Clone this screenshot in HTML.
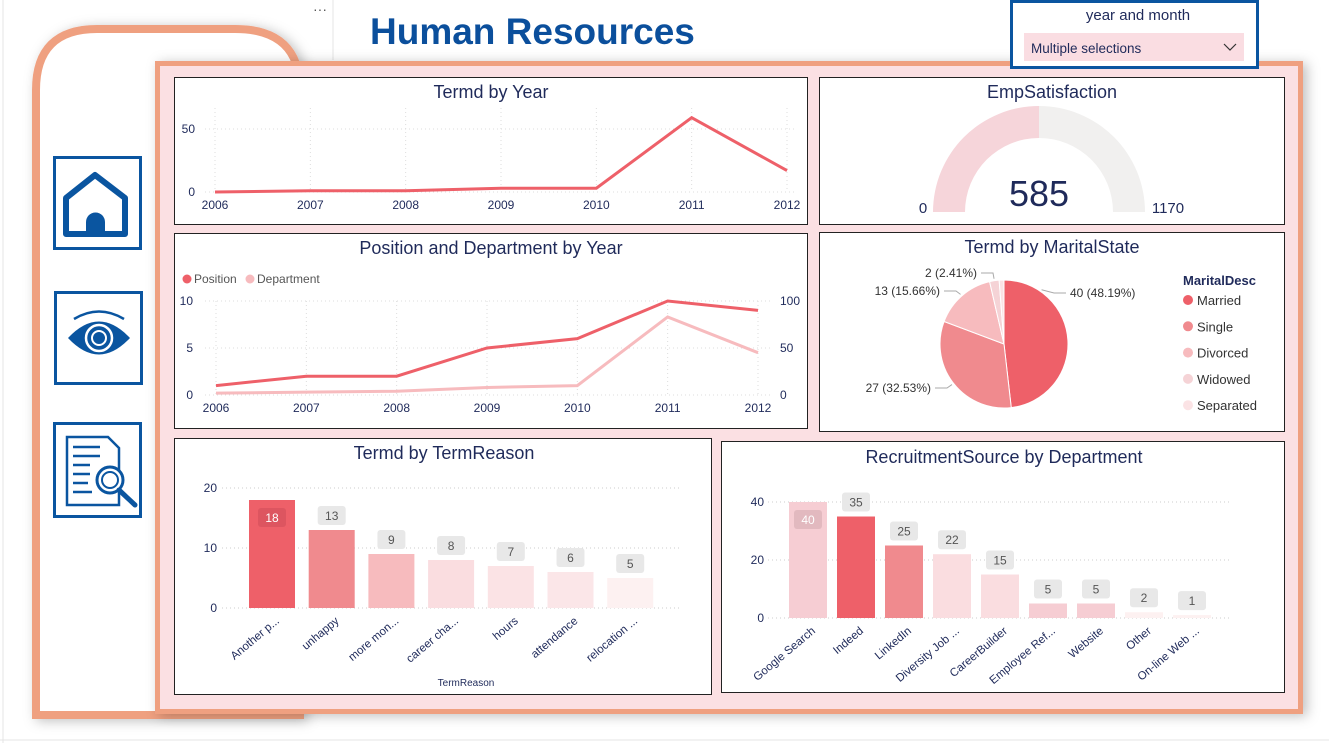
<!DOCTYPE html>
<html><head><meta charset="utf-8">
<style>
html,body{margin:0;padding:0;background:#fff;width:1329px;height:743px;overflow:hidden;font-family:"Liberation Sans",sans-serif;}
svg{display:block}
text{font-family:"Liberation Sans",sans-serif}
</style></head>
<body>
<svg id="s" width="1329" height="743" viewBox="0 0 1329 743" xmlns="http://www.w3.org/2000/svg">
<defs>
<filter id="sh" x="-10%" y="-10%" width="130%" height="130%"><feDropShadow dx="4" dy="2" stdDeviation="6" flood-color="#000" flood-opacity="0.25"/></filter>
</defs>
<line x1="3" y1="0" x2="3" y2="743" stroke="#e4e4e4"/>
<line x1="333" y1="0" x2="333" y2="60" stroke="#e4e4e4"/>
<line x1="0" y1="740" x2="1329" y2="740" stroke="#e4e4e4"/>
<text x="320" y="14" font-size="14" fill="#555" text-anchor="middle">···</text>
<!-- sidebar -->
<path d="M36,715 L36,90 Q36,29 97,29 L235,29 Q300,29 300,90 L300,715 Z" fill="#fff" stroke="#EFA080" stroke-width="8" filter="url(#sh)"/>
<!-- title -->
<text x="370" y="44" font-size="37" font-weight="bold" fill="#0B4F9C">Human Resources</text>
<!-- main panel -->
<rect x="157.5" y="63.5" width="1143" height="648" fill="#FBE0E3" stroke="#EFA080" stroke-width="5" filter="url(#sh)"/>
<!-- slicer -->
<g>
<rect x="1011.5" y="1.5" width="246" height="66" fill="#fff" stroke="#0A55A0" stroke-width="3"/>
<text x="1138" y="20" font-size="15" fill="#1F2A5A" text-anchor="middle">year and month</text>
<rect x="1024" y="33" width="220" height="28" fill="#FADDE2"/>
<text x="1031" y="53" font-size="13.5" fill="#1F2A5A">Multiple selections</text>
<polyline points="1224,44 1230,50 1236,44" fill="none" stroke="#333" stroke-width="1.2"/>
</g>
<!-- nav icons -->
<g>
<rect x="54.5" y="157.5" width="86" height="91" fill="#fff" stroke="#0A55A0" stroke-width="3"/>
<path d="M66,198 L95,175 L125,198 L125,234 L66,234 Z" fill="none" stroke="#0A55A0" stroke-width="6" stroke-linejoin="round"/>
<path d="M86,234 L86,222 A9.5,9.5 0 0 1 105,222 L105,234 Z" fill="#0A55A0"/>
</g>
<g>
<rect x="55.5" y="292.5" width="86" height="91" fill="#fff" stroke="#0A55A0" stroke-width="3"/>
<path d="M68,338 Q99,305 130,338 Q99,371 68,338 Z" fill="#0A55A0"/>
<path d="M74,319 Q99,304 124,319" fill="none" stroke="#0A55A0" stroke-width="2.5"/>
<circle cx="99" cy="338" r="13" fill="none" stroke="#fff" stroke-width="2.5"/>
<circle cx="99" cy="338" r="7" fill="none" stroke="#fff" stroke-width="2"/>
</g>
<g>
<rect x="54.5" y="423.5" width="86" height="93" fill="#fff" stroke="#0A55A0" stroke-width="3"/>
<path d="M67,437 L108,437 L119,448 L119,505 L67,505 Z" fill="none" stroke="#0A55A0" stroke-width="2.5"/>
<g stroke="#0A55A0" stroke-width="2.5"><line x1="73" y1="447" x2="100" y2="447"/><line x1="73" y1="456" x2="100" y2="456"/><line x1="73" y1="465" x2="90" y2="465"/><line x1="73" y1="474" x2="90" y2="474"/><line x1="73" y1="483" x2="88" y2="483"/><line x1="73" y1="492" x2="92" y2="492"/></g>
<circle cx="110" cy="480" r="13" fill="#fff" stroke="#0A55A0" stroke-width="3"/>
<circle cx="110" cy="480" r="8" fill="none" stroke="#0A55A0" stroke-width="2"/>
<line x1="119" y1="490" x2="135" y2="505" stroke="#0A55A0" stroke-width="5" stroke-linecap="round"/>
</g>
<!-- cards -->
<rect x="174.5" y="77.5" width="633" height="147" fill="#fff" stroke="#222"/>
<rect x="819.5" y="77.5" width="465" height="147" fill="#fff" stroke="#222"/>
<rect x="174.5" y="233.5" width="633" height="195" fill="#fff" stroke="#222"/>
<rect x="819.5" y="232.5" width="465" height="199" fill="#fff" stroke="#222"/>
<rect x="174.5" y="438.5" width="537" height="256" fill="#fff" stroke="#222"/>
<rect x="721.5" y="441.5" width="563" height="251" fill="#fff" stroke="#222"/>
<g font-size="18" fill="#1F2A5A" text-anchor="middle">
<text x="491" y="98">Termd by Year</text>
<text x="1052" y="98">EmpSatisfaction</text>
<text x="491" y="254">Position and Department by Year</text>
<text x="1052" y="253">Termd by MaritalState</text>
<text x="444" y="459">Termd by TermReason</text>
<text x="1004" y="463">RecruitmentSource by Department</text>
</g>
<g id="dyn"></g>
</svg>
<script>
const years=["2006","2007","2008","2009","2010","2011","2012"];
const termdByYear=[0,1,1,3,3,59,17];
const termdTicks=[0,50];
const positionVals=[1,2,2,5,6,10,9];
const departmentVals=[2,3,4,8,10,83,45];
const posTicks=[0,5,10];
const deptTicks=[0,50,100];
const gaugeValue=585;
const gaugeMax=1170;
const maritalCats=["Married","Single","Divorced","Widowed","Separated"];
const maritalVals=[40,27,13,2,1];
const maritalColors=["#EE6069","#F08A8E","#F7BBBE","#F5D3D6","#FBE3E5"];
const reasonCats=["Another p...","unhappy","more mon...","career cha...","hours","attendance","relocation ..."];
const reasonVals=[18,13,9,8,7,6,5];
const reasonTicks=[0,10,20];
const reasonColors=["#EE6069","#F08A8E","#F7BBBE","#FADDE0","#FBE3E5","#FBE6E8","#FDF1F1"];
const recCats=["Google Search","Indeed","LinkedIn","Diversity Job ...","CareerBuilder","Employee Ref...","Website","Other","On-line Web ..."];
const recVals=[40,35,25,22,15,5,5,2,1];
const recTicks=[0,20,40];
const recColors=["#F6CDD3","#EE6069","#F08A8E","#FADDE0","#FADDE0","#F6CDD3","#F6CDD3","#FDF1F1","#FDF1F1"];

const NS="http://www.w3.org/2000/svg";
const root=document.getElementById('dyn');
function el(tag,attrs,parent,txt){const e=document.createElementNS(NS,tag);for(const k in attrs)e.setAttribute(k,attrs[k]);if(txt!==undefined)e.textContent=txt;(parent||root).appendChild(e);return e;}
function lin(d0,d1,r0,r1){return v=>r0+(v-d0)*(r1-r0)/(d1-d0);}

// Termd by Year
{const x=lin(0,6,215,787),y=lin(0,50,192,129);
years.forEach((yr,i)=>{el('line',{x1:x(i),x2:x(i),y1:108,y2:192,stroke:'#ddd','stroke-dasharray':'1,3'});
const t=el('text',{x:x(i),y:209,'font-size':12,fill:'#1F2A5A','text-anchor':'middle'},root,yr);
});
termdTicks.forEach(v=>{el('line',{x1:205,x2:795,y1:y(v),y2:y(v),stroke:'#ddd','stroke-dasharray':'1,3'});
el('text',{x:195,y:y(v)+4,'font-size':12,fill:'#1F2A5A','text-anchor':'end'},root,v);});
const p=el('polyline',{points:termdByYear.map((v,i)=>x(i)+','+y(v)).join(' '),fill:'none',stroke:'#EE6069','stroke-width':3});
}

// Gauge
{const cx=1039,cy=212,R=106,r=74;const f=gaugeValue/gaugeMax;const a=Math.PI*(1-f);
function arc(a0,a1,col,name){const p=[cx+R*Math.cos(a0),cy-R*Math.sin(a0),cx+R*Math.cos(a1),cy-R*Math.sin(a1),cx+r*Math.cos(a1),cy-r*Math.sin(a1),cx+r*Math.cos(a0),cy-r*Math.sin(a0)];
const e=el('path',{d:`M${p[0]},${p[1]} A${R},${R} 0 0 1 ${p[2]},${p[3]} L${p[4]},${p[5]} A${r},${r} 0 0 0 ${p[6]},${p[7]} Z`,fill:col});
}
arc(Math.PI,a,'#F6D5DA','gauge-value-arc');arc(a,0,'#F1F0EF','gauge-remaining-arc');
el('text',{x:cx,y:206,'font-size':36,fill:'#1F2A5A','text-anchor':'middle'},root,gaugeValue);
el('text',{x:923,y:213,'font-size':15,fill:'#1F2A5A','text-anchor':'middle'},root,'0');
el('text',{x:1168,y:213,'font-size':15,fill:'#1F2A5A','text-anchor':'middle'},root,gaugeMax);}

// Position & Department
{const x=lin(0,6,216,758),y=lin(0,10,395,301),y2=lin(0,100,395,301);
el('circle',{cx:187,cy:279,r:4.5,fill:'#EE6069'});el('text',{x:194,y:283,'font-size':12,fill:'#555'},root,'Position');
el('circle',{cx:250,cy:279,r:4.5,fill:'#F7BBBE'});el('text',{x:257,y:283,'font-size':12,fill:'#555'},root,'Department');
years.forEach((yr,i)=>{el('line',{x1:x(i),x2:x(i),y1:301,y2:395,stroke:'#ddd','stroke-dasharray':'1,3'});
el('text',{x:x(i),y:412,'font-size':12,fill:'#1F2A5A','text-anchor':'middle'},root,yr);});
posTicks.forEach(v=>{el('line',{x1:205,x2:770,y1:y(v),y2:y(v),stroke:'#ddd','stroke-dasharray':'1,3'});
el('text',{x:193,y:y(v)+4,'font-size':12,fill:'#1F2A5A','text-anchor':'end'},root,v);});
deptTicks.forEach(v=>{el('text',{x:780,y:y2(v)+4,'font-size':12,fill:'#1F2A5A','text-anchor':'start'},root,v);});
const d=el('polyline',{points:departmentVals.map((v,i)=>x(i)+','+y2(v)).join(' '),fill:'none',stroke:'#F7BBBE','stroke-width':3});

const p=el('polyline',{points:positionVals.map((v,i)=>x(i)+','+y(v)).join(' '),fill:'none',stroke:'#EE6069','stroke-width':3});
}

// Pie
{const cx=1004,cy=344,R=64;const tot=maritalVals.reduce((a,b)=>a+b,0);let a0=-Math.PI/2;
const lblPos=[[1070,297,'start'],[931,392,'end'],[940,295,'end'],[977,277,'end'],null];
const anchorFrac=[0.2,0.5,0.5,0.5,0.5];
maritalVals.forEach((v,i)=>{const a1=a0+2*Math.PI*v/tot;const lg=(a1-a0)>Math.PI?1:0;
const s=el('path',{d:`M${cx},${cy} L${cx+R*Math.cos(a0)},${cy+R*Math.sin(a0)} A${R},${R} 0 ${lg} 1 ${cx+R*Math.cos(a1)},${cy+R*Math.sin(a1)} Z`,fill:maritalColors[i],stroke:'#fff','stroke-width':1});

const am=a0+(a1-a0)*anchorFrac[i];const lp=lblPos[i];
if(lp){const ex=cx+(R+2)*Math.cos(am),ey=cy+(R+2)*Math.sin(am);const st=lp[2]==='start';const lx=st?lp[0]-4:lp[0]+4;
el('polyline',{points:`${ex},${ey} ${st?lx-12:lx+12},${lp[1]-4} ${lx},${lp[1]-4}`,fill:'none',stroke:'#aaa'});
el('text',{x:lp[0],y:lp[1],'font-size':12,fill:'#333','text-anchor':lp[2]},root,v+' ('+(v/tot*100).toFixed(2)+'%)');}
a0=a1;});
el('text',{x:1183,y:285,'font-size':13,'font-weight':'bold',fill:'#1F2A5A'},root,'MaritalDesc');
maritalCats.forEach((c,i)=>{const yy=300+i*26.3;
const g=el('g',{});
el('circle',{cx:1188,cy:yy,r:5,fill:maritalColors[i]},g);el('text',{x:1197,y:yy+5,'font-size':13,fill:'#333'},g,c);});}

// bar chart helper
function bars(cats,vals,ticks,colors,o){const y=lin(0,ticks[ticks.length-1],o.y0,o.yTop);
ticks.forEach(v=>{el('line',{x1:o.gx0,x2:o.gx1,y1:y(v),y2:y(v),stroke:'#ccc','stroke-dasharray':'1,3'});
el('text',{x:o.tx,y:y(v)+4,'font-size':12,fill:'#1F2A5A','text-anchor':'end'},root,v);});
cats.forEach((c,i)=>{const cx=o.c0+i*o.pitch;const top=y(vals[i]);
const b=el('rect',{x:cx-o.w/2,y:top,width:o.w,height:o.y0-top,fill:colors[i]});

const inside=(i===0);const ly=inside?top+8:top-24;
el('rect',{x:cx-14,y:ly,width:28,height:19,rx:3,fill:inside?(o.name==='rec'?'#E2B9BF':'#DD5560'):'#E8E8E8'});
el('text',{x:cx,y:ly+14,'font-size':12,fill:inside?'#fff':'#555','text-anchor':'middle'},root,vals[i]);
el('text',{x:cx+8,y:o.y0+14,'font-size':11.5,fill:'#1F2A5A','text-anchor':'end',transform:`rotate(-40 ${cx+8} ${o.y0+14})`},root,c);});}
bars(reasonCats,reasonVals,reasonTicks,reasonColors,{y0:608,yTop:488,gx0:222,gx1:680,tx:217,c0:272,pitch:59.7,w:46,name:'reason'});
el('text',{x:466,y:686,'font-size':10,fill:'#1F2A5A','text-anchor':'middle'},root,'TermReason');
bars(recCats,recVals,recTicks,recColors,{y0:618,yTop:502,gx0:768,gx1:1232,tx:764,c0:808,pitch:48,w:38,name:'rec'});
</script>
</body></html>
